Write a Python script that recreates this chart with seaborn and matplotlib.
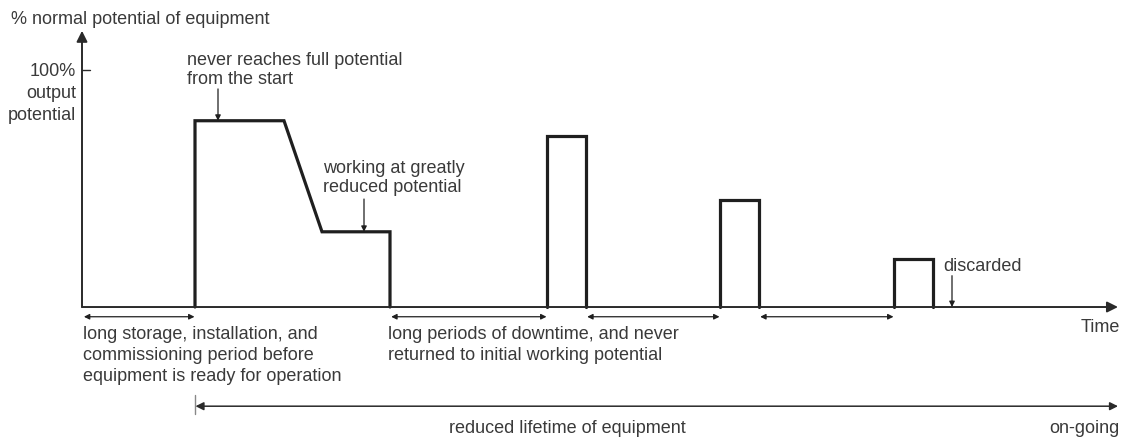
import matplotlib
matplotlib.use("Agg")
import matplotlib.pyplot as plt
import seaborn as sns
import pandas as pd

# ---- data ----
period_start = [11.3, 46.5, 63.8, 81.2]      # time units
period_end = [30.8, 50.4, 67.7, 85.1]
period_level = [78.5, 71.9, 45.1, 20.2]      # % of normal potential
decline_start = 20.2
decline_end = 24.0
reduced_level = 31.7
discard_time = 87.0
time_end = 103.6
y_axis_top = 116.4

y_label = "% normal potential of equipment"
y_tick_label = "100%\noutput\npotential"
note_start = "never reaches full potential\nfrom the start"
note_reduced = "working at greatly\nreduced potential"
note_discard = "discarded"
note_storage = "long storage, installation, and\ncommissioning period before\nequipment is ready for operation"
note_downtime = "long periods of downtime, and never\nreturned to initial working potential"
note_lifetime = "reduced lifetime of equipment"
note_ongoing = "on-going"
x_label = "Time"

# ---- build profile table ----
rows = []
for i, (s, e, lv) in enumerate(zip(period_start, period_end, period_level)):
    if i == 0:
        pts = [(s, 0), (s, lv), (decline_start, lv), (decline_end, reduced_level),
               (e, reduced_level), (e, 0)]
    else:
        pts = [(s, 0), (s, lv), (e, lv), (e, 0)]
    for k, (t, v) in enumerate(pts):
        rows.append({"period": i, "order": k, "time": t, "level": v})
df = pd.DataFrame(rows)

sns.set_theme(style="white")
plt.rcParams["font.family"] = ["Liberation Sans", "DejaVu Sans"]

TXT = "#3a3a3a"
LINE = "#1f1f1f"
FS = 13

fig = plt.figure(figsize=(11.25, 4.39), dpi=100)
ax = fig.add_axes([0, 0, 1, 1])
ax.set_xlim(-8.2, 104.3)
ax.set_ylim(-55.2, 129.8)
ax.set_axis_off()

# axes with arrows
ax.annotate("", xy=(time_end, 0), xytext=(0, 0),
            arrowprops=dict(arrowstyle="-|>", color="#2a2a2a", lw=1.4,
                            mutation_scale=16, shrinkA=0, shrinkB=0))
ax.annotate("", xy=(0, y_axis_top), xytext=(0, 0),
            arrowprops=dict(arrowstyle="-|>", color="#2a2a2a", lw=1.4,
                            mutation_scale=16, shrinkA=0, shrinkB=0))
ax.plot([0, 0.8], [100, 100], color="#2a2a2a", lw=1.0)

# profile
sns.lineplot(data=df, x="time", y="level", units="period", estimator=None,
             sort=False, color=LINE, linewidth=2.3, ax=ax, legend=False,
             solid_joinstyle="miter")
ax.set_axis_off()

# texts
ax.text(-7.1, 121.4, y_label, ha="left", va="center", fontsize=FS, color=TXT)
ax.text(-0.6, 90.4, y_tick_label, ha="right", va="center", fontsize=FS,
        color=TXT, multialignment="right", linespacing=1.4)

ax.text(10.47, 100.3, note_start, ha="left", va="center", fontsize=FS,
        color=TXT, linespacing=1.22)
ax.annotate("", xy=(13.6, period_level[0]), xytext=(13.6, 91.9),
            arrowprops=dict(arrowstyle="-|>", color=LINE, lw=0.9,
                            mutation_scale=8, shrinkA=0, shrinkB=0))

ax.text(24.07, 54.8, note_reduced, ha="left", va="center", fontsize=FS,
        color=TXT, linespacing=1.17)
ax.annotate("", xy=(28.2, reduced_level), xytext=(28.2, 45.5),
            arrowprops=dict(arrowstyle="-|>", color=LINE, lw=0.9,
                            mutation_scale=8, shrinkA=0, shrinkB=0))

ax.text(86.1, 17.7, note_discard, ha="left", va="center", fontsize=FS, color=TXT)
ax.annotate("", xy=(discard_time, 0), xytext=(discard_time, 13.2),
            arrowprops=dict(arrowstyle="-|>", color=LINE, lw=0.9,
                            mutation_scale=8, shrinkA=0, shrinkB=0))

ax.text(time_end + 0.2, -8.4, x_label, ha="right", va="center", fontsize=FS, color=TXT)

# gap arrows below the time axis
gap_from = [0.07] + period_end[:-1]
for g0, g1 in zip(gap_from, period_start):
    ax.annotate("", xy=(g1 - 0.05, -4.1), xytext=(g0 + 0.12, -4.1),
                arrowprops=dict(arrowstyle="<|-|>", color=LINE, lw=0.9,
                                mutation_scale=8, shrinkA=0, shrinkB=0))

ax.text(0.1, -7.4, note_storage, ha="left", va="top", fontsize=FS,
        color=TXT, linespacing=1.34)
ax.text(30.63, -7.4, note_downtime, ha="left", va="top", fontsize=FS,
        color=TXT, linespacing=1.34)

# lifetime arrow
ax.plot([period_start[0] - 0.03, period_start[0] - 0.03], [-37.1, -45.1],
        color="#888888", lw=1.0)
ax.annotate("", xy=(time_end, -41.8), xytext=(period_start[0] + 0.05, -41.8),
            arrowprops=dict(arrowstyle="<|-|>", color="#2a2a2a", lw=1.1,
                            mutation_scale=12, shrinkA=0, shrinkB=0))
ax.text(48.5, -50.6, note_lifetime, ha="center", va="center", fontsize=FS, color=TXT)
ax.text(103.8, -50.6, note_ongoing, ha="right", va="center", fontsize=FS, color=TXT)

fig.savefig("out.png", dpi=100, facecolor="white")
